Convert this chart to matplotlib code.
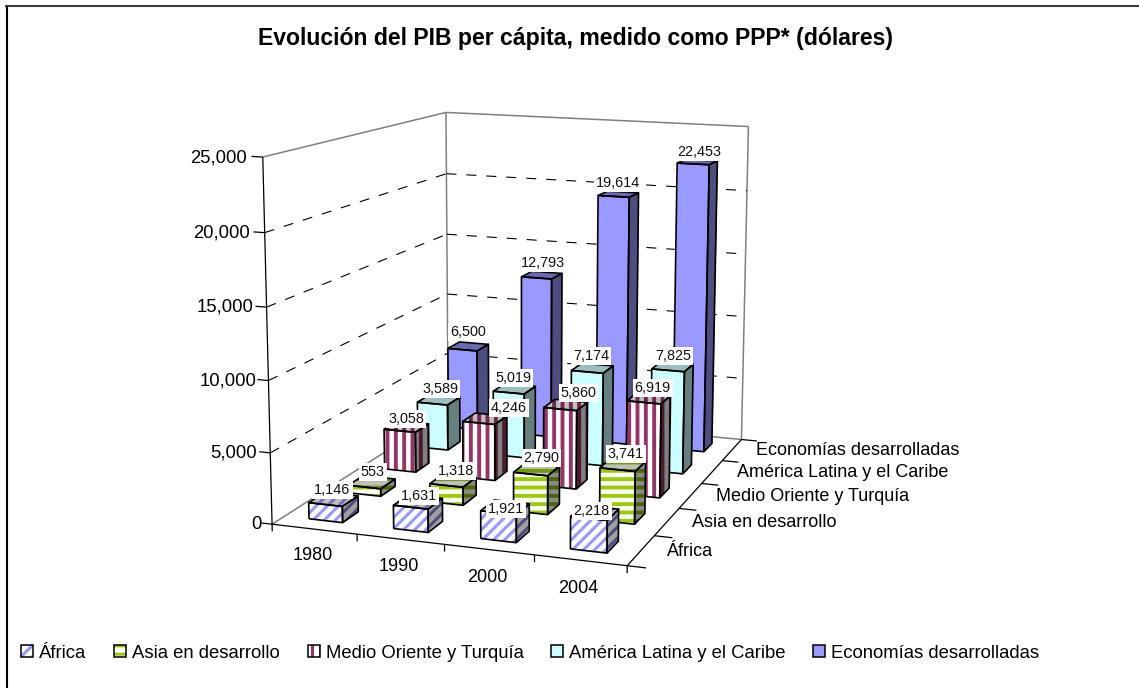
import numpy as np
import matplotlib
matplotlib.use('Agg')
import matplotlib.pyplot as plt
from matplotlib.patches import Patch
from matplotlib.lines import Line2D
from matplotlib.legend_handler import HandlerTuple
from mpl_toolkits.mplot3d import Axes3D, proj3d
from mpl_toolkits.mplot3d.art3d import Poly3DCollection, Line3DCollection

years = ['1980', '1990', '2000', '2004']
africa = [1146, 1631, 1921, 2218]
asia = [553, 1318, 2790, 3741]
medio = [3058, 4246, 5860, 6919]
latina = [3589, 5019, 7174, 7825]
economias = [6500, 12793, 19614, 22453]
series_names = ['África', 'Asia en desarrollo', 'Medio Oriente y Turquía',
                'América Latina y el Caribe', 'Economías desarrolladas']
series_values = [africa, asia, medio, latina, economias]
z_ticks = [0, 5000, 10000, 15000, 20000, 25000]
z_max = 25000
title = 'Evolución del PIB per cápita, medido como PPP* (dólares)'

# style: front stripe colour, front ground, hatch, side (stripe, ground), top (stripe, ground)
styles = [
    dict(c='#9999FF', g='#FFFFFF', h='///', hl=2.2, sc='#4D4D80', sg='#A0A0A0', tc='#7373BF', tg='#C0C0C0'),
    dict(c='#99CC00', g='#FFFFFF', h='--', hl=2.8, sc='#4D6600', sg='#8A8A8A', tc='#739900', tg='#BFBFBF'),
    dict(c='#993366', g='#FFFFFF', h='||', hl=2.8, sc='#4D1A33', sg='#808080', tc='#73264D', tg='#BFBFBF'),
    dict(c='#CCFFFF', g='#CCFFFF', h='', hl=1, sc='#668080', sg='#668080', tc='#99BFBF', tg='#99BFBF'),
    dict(c='#9999FF', g='#9999FF', h='', hl=1, sc='#4D4D80', sg='#4D4D80', tc='#6A6AB3', tg='#6A6AB3'),
]
# pixel nudges of the value labels, one (dx, dy) per bar
label_nudges = [
    [(-2, -2), (0, 1), (0, 9), (-4, 5)],
    [(0, -3), (2, -3), (4, -4), (2, -4)],
    [(-1, -1), (23, -4), (12, -5), (3, -3)],
    [(1, -4), (-2, -4), (-2, -5), (0, -4)],
    [(-1, -7), (0, -5), (-1, -4), (1, -3)],
]
z_label_dx = [4, 1, 2, 1, 0, -1]
y_label_dx = [-3, -2, 0, 0, 0]

plt.rcParams['font.family'] = ['Liberation Sans', 'DejaVu Sans']

W, H = 1139, 688
fig = plt.figure(figsize=(W / 100, H / 100), dpi=100, facecolor='white')
ax = fig.add_axes([0, 0, 1, 1], projection='3d', computed_zorder=False)
ax.set_axis_off()
ax.patch.set_visible(False)
ax.apply_aspect = lambda position=None: None
ax.viewLim.intervalx = (0, W)
ax.viewLim.intervaly = (H, 0)

nx, ny = len(years), len(series_names)
# Camera: projective map of the chart box (unit cube) onto the canvas
cube = np.array([[0, 0, 0], [1, 0, 0], [1, 1, 0], [0, 1, 0], [0, 0, 1], [0, 1, 1], [1, 1, 1]], float)
screen = np.array([[273, 523], [627, 567], [742, 438], [447, 413], [262, 157], [447, 112], [748, 127]], float)
A = []
for (a, b, c), (u, v) in zip(cube, screen):
    p = [a, b, c, 1]
    A.append(p + [0, 0, 0, 0] + [-u * t for t in p])
    A.append([0, 0, 0, 0] + p + [-v * t for t in p])
P = np.linalg.svd(np.array(A))[2][-1].reshape(3, 4)
M = np.vstack([P[0], P[1], [0, 1e-3, 0, 1e-3], P[2]]) @ np.diag([1 / nx, 1 / ny, 1 / z_max, 1.0])
ax.get_proj = lambda: M


def lines(segs, color, lw, ls='-', z=1):
    ax.add_collection3d(Line3DCollection(segs, colors=color, linewidths=lw, linestyles=ls, zorder=z))


def label(x, y, z, s, dx=0, dy=0, **kw):
    px, py, _ = proj3d.proj_transform(x, y, z, M)
    return fig.text((px + dx) / W, 1 - (py + dy) / H, s, **kw)


GREY = '#808080'
lines([[(0, 0, 0), (0, ny, 0)], [(0, ny, 0), (nx, ny, 0)],
       [(0, ny, 0), (0, ny, z_max)], [(nx, ny, 0), (nx, ny, z_max)],
       [(0, 0, z_max), (0, ny, z_max)], [(0, ny, z_max), (nx, ny, z_max)]], GREY, 1.1)
grid = []
for t in z_ticks[1:-1]:
    grid += [[(0, 0, t), (0, ny, t)], [(0, ny, t), (nx, ny, t)]]
lines(grid, 'black', 0.8, (0, (9, 9)))
axes_lines = [[(0, 0, 0), (0, 0, z_max)], [(0, 0, 0), (nx, 0, 0)], [(nx, 0, 0), (nx, ny, 0)]]
axes_lines += [[(0, 0, t), (-0.13, 0, t)] for t in z_ticks]
axes_lines += [[(i, 0, 0), (i, 0, -500)] for i in range(nx + 1)]
axes_lines += [[(nx, j, 0), (nx + 0.2, j, 0)] for j in range(ny + 1)]
lines(axes_lines, 'black', 0.9, z=2)

bw = 0.40
zo = 10
for j in range(ny - 1, -1, -1):
    st = styles[j]
    plt.rcParams['hatch.linewidth'] = st['hl']
    for i in range(nx):
        v = series_values[j][i]
        x0, x1 = i + .49 - bw / 2, i + .49 + bw / 2
        y0, y1 = j + .5 - bw / 2, j + .5 + bw / 2
        faces = [
            ([(x0, y0, 0), (x1, y0, 0), (x1, y0, v), (x0, y0, v)], st['g'], st['c']),
            ([(x1, y0, 0), (x1, y1, 0), (x1, y1, v), (x1, y0, v)], st['sg'], st['sc']),
            ([(x0, y0, v), (x1, y0, v), (x1, y1, v), (x0, y1, v)], st['tg'], st['tc']),
        ]
        for poly, ground, stripe in faces:
            ax.add_collection3d(Poly3DCollection([poly], facecolors=ground, edgecolors=stripe,
                                                 hatch=st['h'] or None, linewidths=0, zorder=zo))
            ax.add_collection3d(Line3DCollection([poly + poly[:1]], colors='black',
                                                 linewidths=1.2, zorder=zo + 0.5))
        zo += 1

# value labels
for j in range(ny):
    for i in range(nx):
        v = series_values[j][i]
        dx, dy = label_nudges[j][i]
        label(i + .5, j + .5, v, f'{v:,}', dx=dx, dy=dy, fontsize=10.4, ha='center', va='bottom',
              color='#111111', bbox=dict(fc='white', ec='none', pad=1.5))

# axis labels
for t, dx in zip(z_ticks, z_label_dx):
    label(-0.17, 0, t, f'{t:,}', dx=dx, dy=1.5, fontsize=13.3, ha='right', va='center')
for i, y in enumerate(years):
    label(i + .48, 0, -1900, y, fontsize=13, ha='center', va='center')
for j, s in enumerate(series_names):
    label(nx + 0.3, j + .5, 0, s, dx=y_label_dx[j], dy=-2, fontsize=13, ha='left', va='center')

fig.text(575 / W, 1 - 38 / H, title, fontsize=16.6, fontweight='bold', ha='center', va='center')

plt.rcParams['hatch.linewidth'] = 2.2
handles = []
for s in styles:
    fill = Patch(facecolor=s['g'], edgecolor=s['c'], hatch=s['h'] or None, lw=0)
    outline = Patch(fill=False, edgecolor='black', lw=1.1)
    handles.append((fill, outline))
leg = fig.legend(handles, series_names, ncol=5, frameon=False, fontsize=13.3,
                 loc='center left', bbox_to_anchor=(12 / W, 1 - 653 / H),
                 handler_map={tuple: HandlerTuple(ndivide=1, pad=0)},
                 handlelength=0.65, handleheight=0.65, handletextpad=0.325, columnspacing=1.5, borderpad=0)

# chart frame: only the left and top edges fall inside the picture
fig.add_artist(Line2D([6.5 / W, 6.5 / W], [0, 1 - 5.5 / H], color='black', lw=1.5))
fig.add_artist(Line2D([6 / W, 1], [1 - 5.5 / H, 1 - 5.5 / H], color='#3C3C3C', lw=1.5))
fig.savefig('out.png', dpi=100)
